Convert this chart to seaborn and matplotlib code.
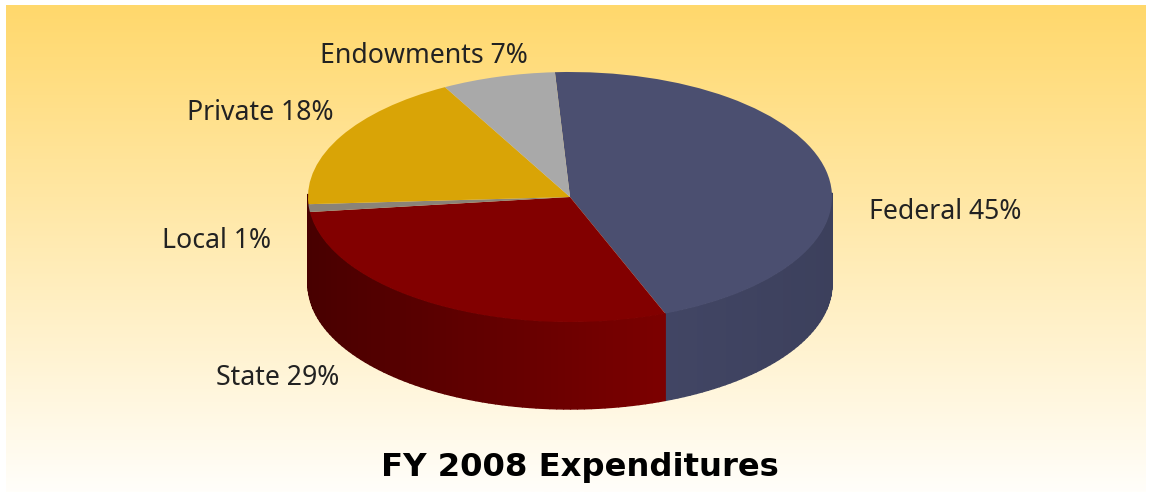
import numpy as np
import matplotlib
matplotlib.use("Agg")
import matplotlib.pyplot as plt
from matplotlib.collections import PolyCollection
from matplotlib.colors import to_rgb
import seaborn as sns

categories = ["Federal", "State", "Local", "Private", "Endowments"]
shares = [45, 29, 1, 18, 7]
top_colors = ["#4b4f70", "#820000", "#8a8378", "#d9a406", "#a9a9a9"]
label_texts = ["Federal 45%", "State 29%", "Local 1%", "Private 18%", "Endowments 7%"]

W, H = 1149, 498
CX, CY, RX, RY, DEPTH = 570, 197, 262, 125, 87
START = 93.3
K = RX / RY

sns.set_theme(style="white")
fig = plt.figure(figsize=(W / 100, H / 100), dpi=100, facecolor="white")
ax = fig.add_axes([0, 0, 1, 1])

def Y(py):
    return (H - py) * K

# side walls first (only front half visible)
edges = START - np.cumsum([0] + shares) * 3.6
polys, cols = [], []
for i, c in enumerate(top_colors):
    a0, a1 = edges[i], edges[i + 1]
    th = np.radians(np.linspace(a0, a1, max(2, int(abs(a1 - a0) / 1.5) + 1)))
    for t0, t1 in zip(th[:-1], th[1:]):
        if np.sin(t0) > 0.02 and np.sin(t1) > 0.02:
            continue
        x0, x1 = CX + RX * np.cos(t0), CX + RX * np.cos(t1)
        y0, y1 = CY - RY * np.sin(t0), CY - RY * np.sin(t1)
        polys.append([(x0, Y(y0)), (x1, Y(y1)), (x1, Y(y1 + DEPTH)), (x0, Y(y0 + DEPTH))])
        u = (x0 - (CX - RX)) / (2 * RX)
        if i == 0:
            rgb = np.array([64, 68, 98]) / 255 * (1.02 - 0.08 * max(0, u - 0.7) / 0.3)
        else:
            f = min(1.0, max(0.0, u / 0.68))
            rgb = (np.array([72, 0, 0]) * (1 - f) + np.array([124, 0, 0]) * f) / 255
        cols.append(tuple(rgb))
ax.add_collection(PolyCollection(polys, facecolors=cols, edgecolors=cols, linewidths=1.0,
                                 zorder=2))

wedges, _ = ax.pie(shares, colors=top_colors, startangle=START, counterclock=False,
                   radius=RX, center=(CX, Y(CY)), frame=False,
                   wedgeprops=dict(linewidth=0, zorder=3))

ax.set_aspect("auto")
ax.axis("off")

# gradient panel
grad = np.linspace(0, 1, 256)[:, None, None]
topc = np.array([255, 216, 108]) / 255
botc = np.array([255, 254, 250]) / 255
img = topc * (1 - grad) + botc * grad
ax.imshow(img, extent=(6, W - 3, Y(492), Y(6)), aspect="auto", zorder=0, origin="upper")
ax.set_xlim(0, W)
ax.set_ylim(0, H * K)

pos = [(945, 212), (278, 378), (216, 241), (260, 113), (424, 56)]
for t, (px, py) in zip(label_texts, pos):
    ax.text(px, Y(py), t, ha="center", va="center", fontsize=19.2, color="#222222",
            family="Noto Sans", zorder=5)
ax.text(580, Y(467), "FY 2008 Expenditures", ha="center", va="center", fontsize=23.2,
        fontweight="bold", color="black", family="DejaVu Sans", zorder=5)

fig.savefig("out.png", dpi=100)
